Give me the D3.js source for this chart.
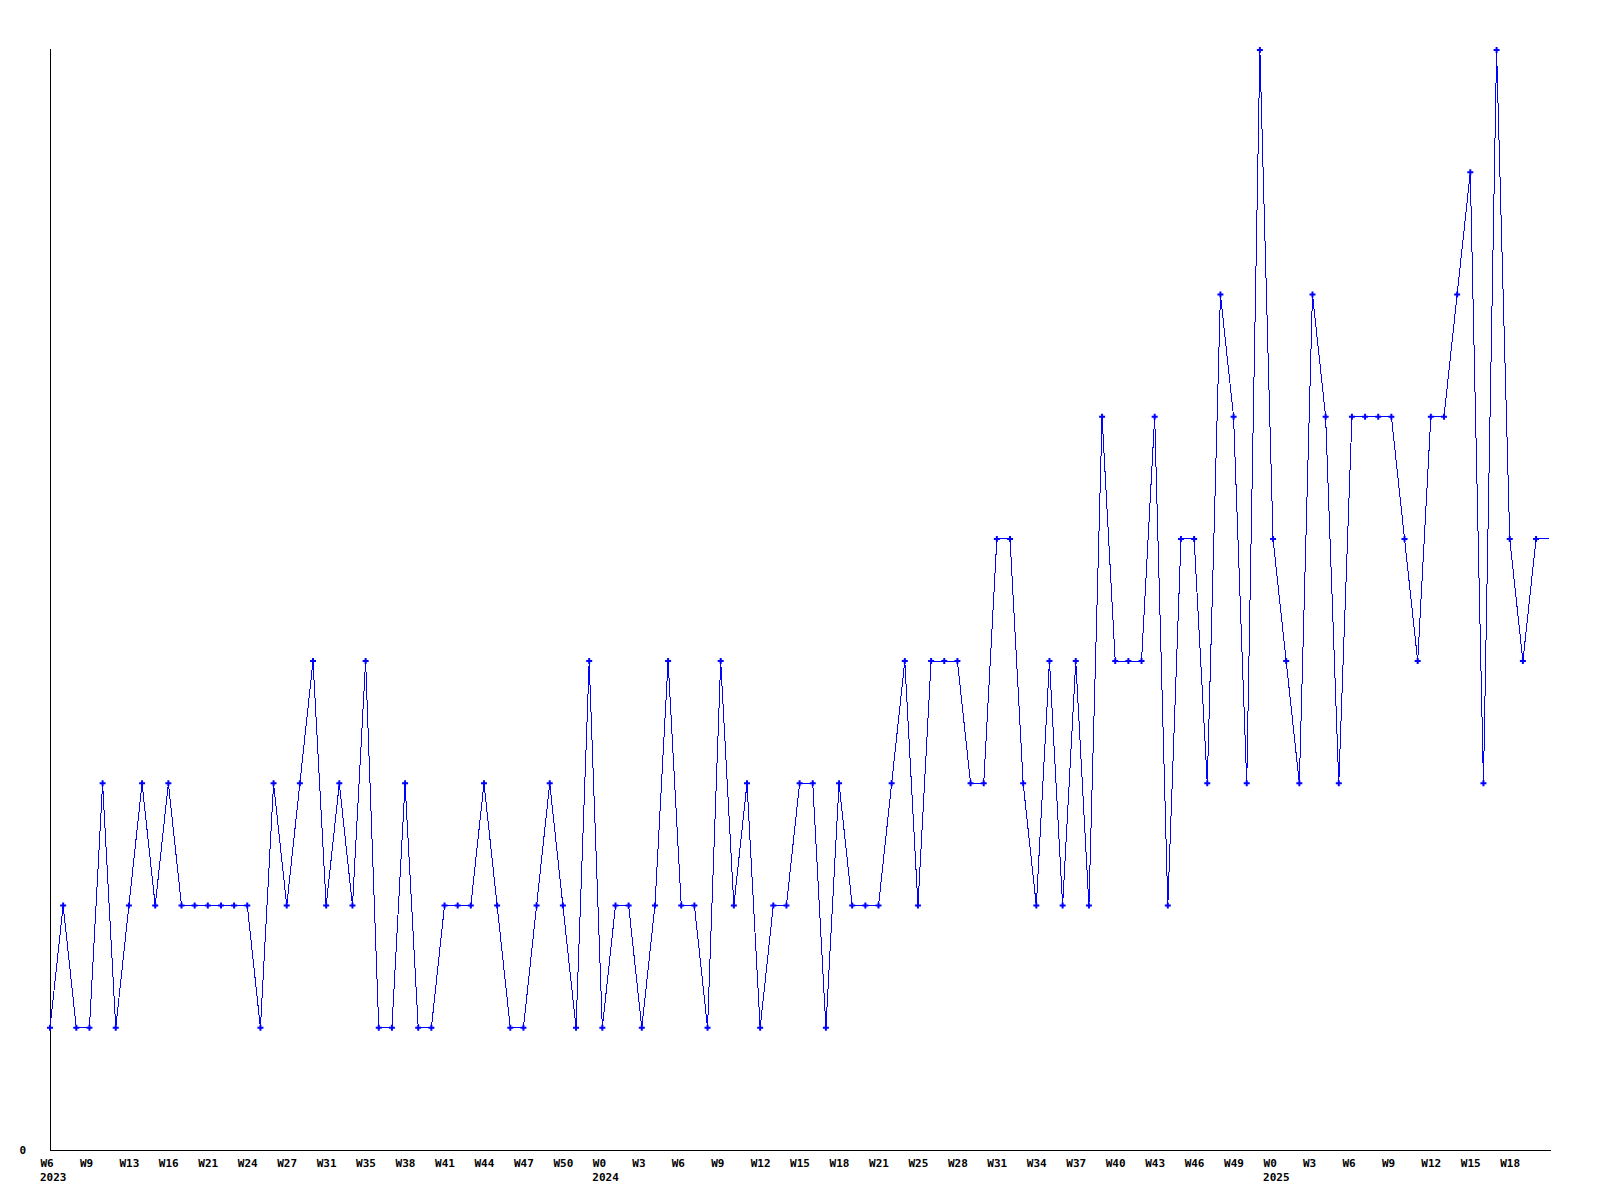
<!DOCTYPE html>
<html>
<head>
<meta charset="utf-8">
<script src="https://cdn.jsdelivr.net/npm/d3@7/dist/d3.min.js"></script>
<style>
  html, body { margin: 0; padding: 0; background: #ffffff; }
  svg { display: block; }
  text { font-family: "DejaVu Sans Mono", "Liberation Mono", monospace; font-weight: bold; font-size: 11px; fill: #000; }
</style>
</head>
<body>
<svg id="chart" width="1600" height="1200"></svg>
<script>
// Weekly values, one per point (W6 2023 ... W20 2025)
const values = [
  1, 2, 1, 1, 3, 1, 2, 3, 2, 3,
  2, 2, 2, 2, 2, 2, 1, 3, 2, 3,
  4, 2, 3, 2, 4, 1, 1, 3, 1, 1,
  2, 2, 2, 3, 2, 1, 1, 2, 3, 2,
  1, 4, 1, 2, 2, 1, 2, 4, 2, 2,
  1, 4, 2, 3, 1, 2, 2, 3, 3, 1,
  3, 2, 2, 2, 3, 4, 2, 4, 4, 4,
  3, 3, 5, 5, 3, 2, 4, 2, 4, 2,
  6, 4, 4, 4, 6, 2, 5, 5, 3, 7,
  6, 3, 9, 5, 4, 3, 7, 6, 3, 6,
  6, 6, 6, 5, 4, 6, 6, 7, 8, 3,
  9, 5, 4, 5, 5
];

// Tick labels, shown on every third point
const tickLabels = [
  "W6", "W9", "W13", "W16", "W21", "W24", "W27", "W31", "W35", "W38",
  "W41", "W44", "W47", "W50", "W0", "W3", "W6", "W9", "W12", "W15",
  "W18", "W21", "W25", "W28", "W31", "W34", "W37", "W40", "W43", "W46",
  "W49", "W0", "W3", "W6", "W9", "W12", "W15", "W18"
];
const yearLabels = ["2023", "2024", "2025"];
const yTickValues = [0];
const yMax = 9;
const tickStep = 3;

const svg = d3.select("#chart");

const mLeft = 50, mRight = 1549.2, mTop = 50, mBottom = 1150;

const x = d3.scaleLinear().domain([0, values.length - 1]).range([mLeft, mRight]);
const y = d3.scaleLinear().domain([0, yMax]).range([mBottom, mTop]);

// Tick positions on point indices
const tickIdx = tickLabels.map((_, k) => k * tickStep);
// Year label placed at first tick and at each "W0"
const yearTickIdx = tickIdx.filter((v, k) => k === 0 || tickLabels[k] === "W0");

// X axis
const xAxis = d3.axisBottom(x)
  .tickValues(tickIdx)
  .tickFormat((d) => tickLabels[d / tickStep])
  .tickSize(0);
const gx = svg.append("g")
  .attr("transform", `translate(0,${mBottom})`)
  .call(xAxis);
gx.select(".domain")
  .attr("stroke", "#000")
  .attr("stroke-width", 1)
  .attr("shape-rendering", "crispEdges")
  .attr("d", `M${mLeft},0.5H${x(values.length - 1) + 2}`);
gx.selectAll(".tick text")
  .attr("text-anchor", "start")
  .attr("x", -10)
  .attr("y", 17)
  .attr("dy", null)
  .style("font-family", '"DejaVu Sans Mono", monospace')
  .style("font-weight", "bold")
  .style("font-size", "11px");

// Year labels
svg.append("g").selectAll("text")
  .data(yearTickIdx)
  .join("text")
  .attr("x", (d) => x(d) - 10)
  .attr("y", mBottom + 31)
  .text((d, k) => yearLabels[k]);

// Y axis
const yAxis = d3.axisLeft(y).tickValues(yTickValues).tickSize(0).tickFormat(d3.format("d"));
const gy = svg.append("g")
  .attr("transform", `translate(${mLeft},0)`)
  .call(yAxis);
gy.select(".domain")
  .attr("stroke", "#000")
  .attr("stroke-width", 1)
  .attr("shape-rendering", "crispEdges")
  .attr("d", `M0.5,${mBottom}V${mTop - 1}`);
gy.selectAll(".tick text")
  .attr("x", -24)
  .attr("dy", "0.35em")
  .style("font-family", '"DejaVu Sans Mono", monospace')
  .style("font-weight", "bold")
  .style("font-size", "11px");

// Line
const line = d3.line()
  .x((d, i) => x(i))
  .y((d) => y(d));

svg.append("path")
  .datum(values)
  .attr("fill", "none")
  .attr("stroke", "#0000ff")
  .attr("stroke-width", 1)
  .attr("shape-rendering", "crispEdges")
  .attr("d", line);

// Markers (the last value is drawn as line only)
const marker = d3.symbol().type(d3.symbolCross).size(20);
svg.append("g").selectAll("path")
  .data(values.slice(0, values.length - 1))
  .join("path")
  .attr("transform", (d, i) => `translate(${x(i)},${y(d)})`)
  .attr("fill", "#0000ff")
  .attr("d", marker);
</script>
</body>
</html>
